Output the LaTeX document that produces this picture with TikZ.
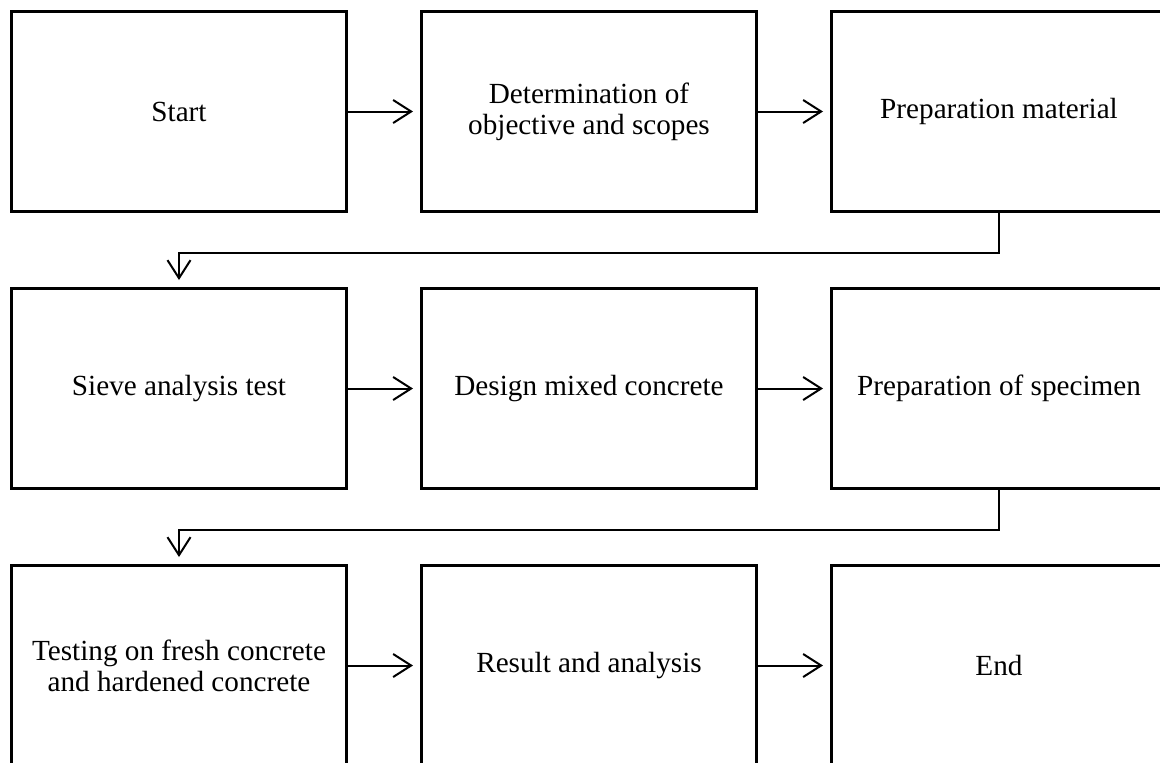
\documentclass[tikz,border=0pt]{standalone}
\usepackage{fontspec}
\setmainfont{Liberation Serif}
\usepackage{tikz}
\usetikzlibrary{positioning,arrows.meta}

\tikzset{
    stage/.style={draw=black,line width=1.5pt,minimum width=167.5pt,minimum height=100pt,
        align=center,inner sep=2pt,font=\fontsize{14.6}{15.5}\selectfont},
    flow/.style={line width=1pt,-{Straight Barb[length=9pt,width=11.5pt]},shorten >=3.5pt}
}

\begin{document}
\begin{tikzpicture}[node distance=36pt and 36pt]
                \useasboundingbox (0,0) rectangle (580pt,-381pt);
                % First row
                \node[stage,anchor=north west] (start) at (5pt,-5pt) {Start};
                \node[stage,right=of start] (objective) {Determination of\\objective and scopes};
                \node[stage,right=of objective] (material) {Preparation material};
                % Second row
                \node[stage,below=37pt of start] (sieve) {Sieve analysis test};
                \node[stage,right=of sieve] (design) {Design mixed concrete};
                \node[stage,right=of design] (specimen) {Preparation of specimen};
                % Third row
                \node[stage,below=37pt of sieve] (testing) {Testing on fresh concrete\\and hardened concrete};
                \node[stage,right=of testing] (result) {Result and analysis};
                \node[stage,right=of result] (finish) {End};
                % Flow
                \draw[flow](start)--(objective);
                \draw[flow](objective)--(material);
                \draw[flow](material.south)--++(0,-20pt)-|(sieve.north);
                \draw[flow](sieve)--(design);
                \draw[flow](design)--(specimen);
                \draw[flow](specimen.south)--++(0,-20pt)-|(testing.north);
                \draw[flow](testing)--(result);
                \draw[flow](result)--(finish);
\end{tikzpicture}
\end{document}
